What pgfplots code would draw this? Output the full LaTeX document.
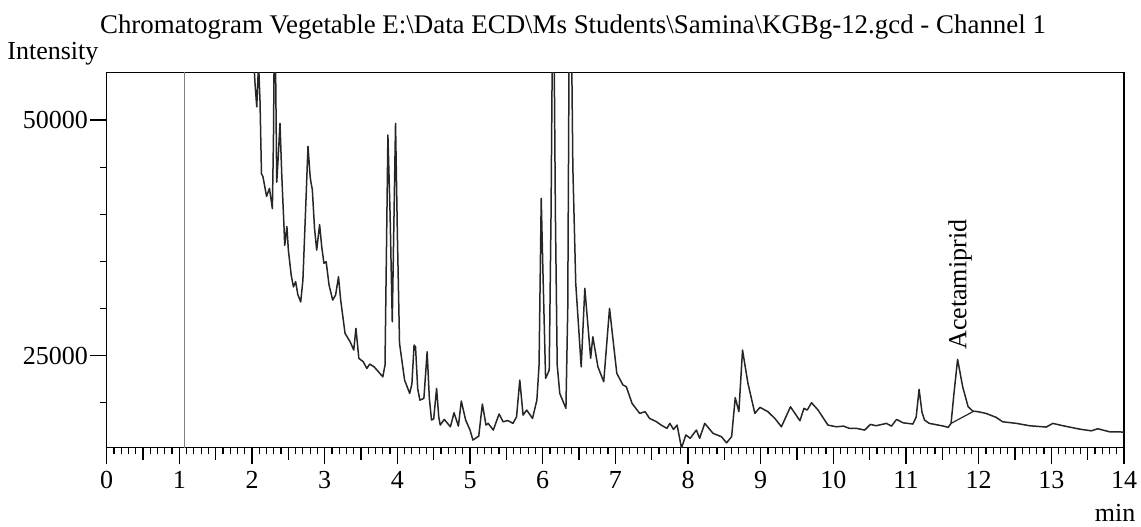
\documentclass[border=0pt]{standalone}
\usepackage{fontspec}
\setmainfont{Liberation Serif}
\usepackage{pgfplots}
\pgfplotsset{compat=1.18}
\newcommand\f{\fontsize{13pt}{15pt}\selectfont}
\newcommand\ft{\fontsize{13.45pt}{15pt}\selectfont}
\begin{document}
\begin{tikzpicture}
\begin{axis}[
 at={(0pt,0pt)}, anchor=south west,
 scale only axis, width=508.65pt, height=187.7pt,
 xmin=0, xmax=14, ymin=15240, ymax=55060,
 axis line style={line width=0.7pt},
 tick align=outside, tick pos=left,
 xtick={0,...,14}, minor x tick num=9,
 extra x ticks={0.5,1.5,2.5,3.5,4.5,5.5,6.5,7.5,8.5,9.5,10.5,11.5,12.5,13.5},
 extra x tick labels={},
 extra x tick style={major tick length=6pt},
 ytick={25000,50000}, minor ytick={20000,30000,35000,40000,45000},
 major tick length=8.35pt, minor tick length=3.35pt,
 every tick/.style={black, line width=0.6pt},
 tick label style={font=\f},
 yticklabel style={xshift=2.5pt},
 /pgf/number format/assume math mode=true,
 /pgf/number format/1000 sep={},
 scaled y ticks=false,
]
\addplot[black!50, line width=0.6pt] coordinates {(1.07,15240) (1.07,55060)};
\addplot[black!85, line width=0.75pt, mark=none, line join=round] coordinates {
(2.00,60000) (2.04,54000) (2.065,51400) (2.09,56000) (2.11,52000) (2.13,44300) (2.15,44000)
(2.20,41900) (2.24,42750) (2.28,40600) (2.295,48000) (2.31,62000) (2.325,55000) (2.34,43400)
(2.36,46000) (2.385,49650) (2.41,44000) (2.44,38700) (2.45,36700) (2.48,38700) (2.50,36200)
(2.54,33500) (2.57,32300) (2.60,32850) (2.63,31500) (2.67,30700) (2.70,33000) (2.74,41000)
(2.77,47200) (2.80,44000) (2.81,43450) (2.83,42600) (2.86,38500) (2.89,36200) (2.93,38900)
(2.96,36500) (2.99,34800) (3.02,34970) (3.06,32500) (3.11,30900) (3.15,31430) (3.19,33370)
(3.22,30900) (3.28,27370) (3.35,26480) (3.40,25600) (3.43,27900) (3.47,24720) (3.53,24360)
(3.58,23650) (3.62,24110) (3.68,23820) (3.74,23290) (3.80,22760) (3.83,24000) (3.87,48400)
(3.90,40000) (3.93,28600) (3.95,38000) (3.975,49650) (4.00,38000) (4.03,26300) (4.10,22400)
(4.17,21000) (4.20,22000) (4.23,26130) (4.25,25950) (4.28,21500) (4.31,20290) (4.365,20470)
(4.41,25420) (4.44,20500) (4.47,18170) (4.50,18300) (4.54,21530) (4.57,18500) (4.59,17640)
(4.645,18240) (4.73,17460) (4.78,18950) (4.84,17530) (4.88,20190) (4.94,18170) (5.00,17110)
(5.04,16050) (5.12,16470) (5.17,19870) (5.22,17640) (5.25,17820) (5.32,17110) (5.40,18810)
(5.455,17990) (5.52,18120) (5.59,17820) (5.64,18500) (5.685,22410) (5.73,18700) (5.78,19230)
(5.86,18350) (5.92,20290) (5.95,24000) (5.98,41690) (6.00,35000) (6.04,22590) (6.09,23470)
(6.115,40000) (6.135,60000) (6.155,60000) (6.175,40000) (6.20,24000) (6.235,21000) (6.32,19410)
(6.345,30000) (6.365,60000) (6.395,60000) (6.415,45000) (6.455,32670) (6.53,23820) (6.58,32150)
(6.66,24720) (6.69,27010) (6.76,23820) (6.84,22240) (6.92,30020) (7.02,23120) (7.105,21890)
(7.15,21720) (7.23,19940) (7.335,18880) (7.41,19060) (7.47,18350) (7.565,18000) (7.63,17640)
(7.71,17290) (7.75,17820) (7.80,17180) (7.85,17640) (7.91,15200) (7.97,16590) (8.03,16240)
(8.115,17110) (8.16,16240) (8.23,17820) (8.345,16760) (8.46,16410) (8.53,15760) (8.60,16410)
(8.65,20540) (8.70,19060) (8.75,25600) (8.825,22060) (8.92,18880) (8.99,19520) (9.10,19060)
(9.20,18300) (9.285,17460) (9.41,19580) (9.54,18100) (9.595,19410) (9.64,19230) (9.70,20010)
(9.79,19230) (9.925,17640) (10.04,17460) (10.14,17530) (10.22,17290) (10.32,17290) (10.43,17110)
(10.51,17710) (10.59,17570) (10.73,17820) (10.80,17530) (10.87,18240) (10.96,17880) (11.095,17750)
(11.14,18500) (11.18,21430) (11.22,19000) (11.255,18170) (11.32,17820) (11.37,17750) (11.51,17540)
(11.58,17400) (11.62,17820) (11.66,21000) (11.71,24610) (11.78,21700) (11.855,19580) (11.92,19120)
(11.99,19060) (12.10,18880) (12.24,18460) (12.33,17990) (12.52,17820) (12.70,17570) (12.93,17430)
(13.02,17820) (13.16,17570) (13.39,17210) (13.55,17030) (13.64,17250) (13.80,16930) (14.0,16900)
};
\addplot[black!85, line width=0.6pt, mark=none] coordinates {(11.62,17820) (11.92,19060)};
\node[rotate=90, anchor=base west, inner sep=0pt, font=\f] at (axis cs:11.83,25600) {Acetamiprid};
\end{axis}
\node[anchor=base west, inner sep=0pt, font=\ft] at (-3.5pt,207.2pt) {Chromatogram Vegetable E:\textbackslash Data ECD\textbackslash Ms Students\textbackslash Samina\textbackslash KGBg-12.gcd - Channel 1};
\node[anchor=base west, inner sep=0pt, font=\f] at (-49.85pt,194.2pt) {Intensity};
\node[anchor=base east, inner sep=0pt, font=\f] at (514.5pt,-36.65pt) {min};
\pgfresetboundingbox
\path (-53.35pt,-39.15pt) rectangle (517.15pt,223.85pt);
\end{tikzpicture}
\end{document}
